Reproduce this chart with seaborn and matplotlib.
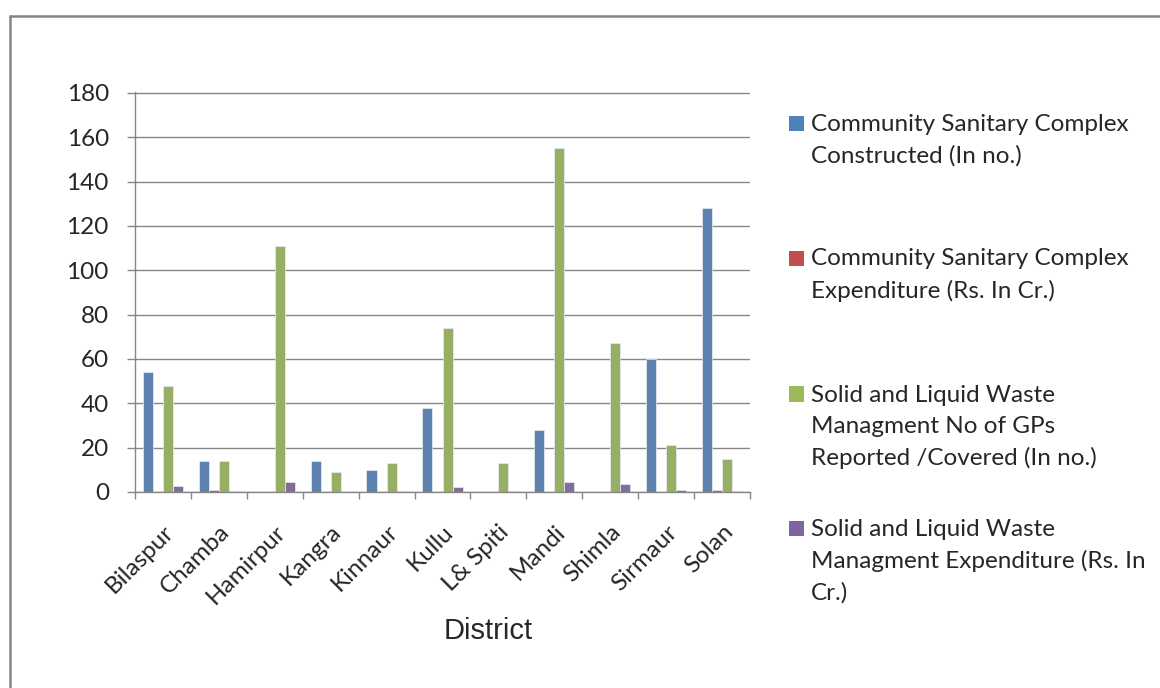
import pandas as pd
import matplotlib
matplotlib.use("Agg")
import matplotlib.pyplot as plt
from matplotlib.patches import Patch
from matplotlib.lines import Line2D
import seaborn as sns

# Werte
districts = ['Bilaspur', 'Chamba', 'Hamirpur', 'Kangra', 'Kinnaur', 'Kullu',
             'L& Spiti', 'Mandi', 'Shimla', 'Sirmaur', 'Solan']
csc_constructed = [54, 14, 0, 14, 10, 38, 0, 28, 0, 60, 128]
csc_expenditure = [0, 0.9, 0, 0, 0, 0, 0, 0, 0, 0, 0.9]
slwm_gps = [48, 14, 111, 9, 13, 74, 13, 155, 67, 21, 15]
slwm_expenditure = [2.6, 0.6, 4.5, 0, 0.6, 2.4, 0.6, 4.6, 3.6, 0.8, 0.6]

series_names = [
    "Community Sanitary Complex\nConstructed (In no.)",
    "Community Sanitary Complex\nExpenditure (Rs. In Cr.)",
    "Solid and Liquid Waste\nManagment No of GPs\nReported /Covered (In no.)",
    "Solid and Liquid Waste\nManagment Expenditure (Rs. In\nCr.)",
]
colors = ['#4F81BD', '#C0504D', '#9BBB59', '#8064A2']
grey = '#868686'

rows = []
for name, vals in zip(series_names, [csc_constructed, csc_expenditure, slwm_gps, slwm_expenditure]):
    for d, v in zip(districts, vals):
        rows.append({'District': d, 'value': v, 'series': name})
df = pd.DataFrame(rows)

sns.set_theme(style="white")
plt.rcParams['font.family'] = ['Lato', 'DejaVu Sans']

W, H = 1160, 688
FS = 17.5
fig = plt.figure(figsize=(W / 100, H / 100), dpi=100)
ax = fig.add_axes([135 / W, 1 - 492 / H, 615 / W, 400 / H])

sns.barplot(data=df, x='District', y='value', hue='series', palette=colors,
            width=0.72, errorbar=None, edgecolor='#e8eef6', linewidth=0.5,
            legend=False, ax=ax)

ax.set_ylim(0, 180.4)
ax.set_xlim(-0.5, len(districts) - 0.5)
ax.set_yticks(range(0, 181, 20))
ax.set_axisbelow(True)
ax.yaxis.grid(True, color=grey, linewidth=1.0)
ax.xaxis.grid(False)

for s in ['top', 'right']:
    ax.spines[s].set_visible(False)
for s in ['left', 'bottom']:
    ax.spines[s].set_color(grey)
    ax.spines[s].set_linewidth(1.0)

ax.tick_params(axis='y', which='major', length=5.8, width=1.0, color=grey,
               direction='out', pad=13, labelsize=FS, left=True)
ax.set_xticks(range(len(districts)))
ax.set_xticks([i - 0.5 for i in range(len(districts) + 1)], minor=True)
ax.tick_params(axis='x', which='major', length=0, pad=21, labelsize=FS)
ax.tick_params(axis='x', which='minor', length=5, width=1.0, color=grey,
               direction='out', bottom=True)
for lab in ax.get_xticklabels():
    lab.set_rotation(45)
    lab.set_ha('right')
    lab.set_va('top')
    lab.set_rotation_mode('anchor')

ax.set_ylabel('')
ax.set_xlabel('District', fontsize=21, family=['Liberation Sans', 'DejaVu Sans'])
ax.xaxis.set_label_coords((488.5 - 135) / 615, (492 - 639) / 400)
ax.xaxis.label.set_va('baseline')

# Legende: je Eintrag eine eigene Legende, Quadrat auf Höhe der ersten Zeile
fs_px = FS * 100 / 72
step_px = 33
line_y = [123.5, 258.5, 394, 528.5]
for name, col, y in zip(series_names, colors, line_y):
    n_lines = name.count('\n') + 1
    shift_px = (n_lines - 1) / 2 * step_px
    leg = fig.legend(handles=[Patch(facecolor=col, edgecolor='none')], labels=[name],
                     loc='center left', bbox_to_anchor=(789 / W, 1 - (y + shift_px) / H),
                     frameon=False, fontsize=FS, borderpad=0, borderaxespad=0,
                     handlelength=15 / fs_px, handleheight=15 / fs_px,
                     handletextpad=7 / fs_px)
    for t in leg.get_texts():
        t.set_linespacing(1.56)
    # Quadrat nach oben auf die erste Zeile schieben (Einheiten: Punkte)
    handle = leg.legend_handles[0]
    handle.set_y(handle.get_y() + shift_px * 72 / 100)

# Rahmen links und oben
fig.add_artist(Line2D([9.5 / W, 9.5 / W], [0, 1 - 16 / H], color=grey, linewidth=1.8,
                      transform=fig.transFigure))
fig.add_artist(Line2D([9.5 / W, 1], [1 - 16 / H, 1 - 16 / H], color=grey, linewidth=1.8,
                      transform=fig.transFigure))

fig.savefig('out.png', dpi=100)
plt.close(fig)
